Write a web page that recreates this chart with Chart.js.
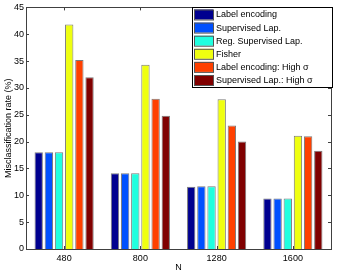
<!DOCTYPE html>
<html>
<head>
<meta charset="utf-8">
<script src="https://cdn.jsdelivr.net/npm/chart.js@4.4.0/dist/chart.umd.min.js"></script>
<style>
  html, body { margin: 0; padding: 0; background: #fff; }
  #wrap { width: 338px; height: 273px; }
</style>
</head>
<body>
<div id="wrap"><canvas id="grafico" width="338" height="273"></canvas></div>
<script>
// --- dados ---
let categorias = ['480', '800', '1280', '1600'];
let labelEncoding = [18.0, 14.1, 11.6, 9.4];
let supervisedLap = [18.0, 14.1, 11.7, 9.4];
let regSupervisedLap = [18.0, 14.1, 11.7, 9.4];
let fisher = [41.8, 34.3, 27.9, 21.1];
let labelEncHigh = [35.2, 28.0, 23.0, 21.0];
let supLapHigh = [32.0, 24.8, 20.0, 18.3];
let nomes = ['Label encoding', 'Supervised Lap.', 'Reg. Supervised Lap.', 'Fisher',
             'Label encoding: High \u03c3', 'Supervised Lap.: High \u03c3'];
let cores = ['#00008f', '#0050ff', '#20ffdf', '#efff10', '#ff4000', '#800000'];
let yTicks = [0, 5, 10, 15, 20, 25, 30, 35, 40, 45];

let fonte = '"Liberation Sans", Arial, sans-serif';
Chart.defaults.font.family = fonte;
Chart.defaults.font.size = 9;
Chart.defaults.color = '#000';

let series = [labelEncoding, supervisedLap, regSupervisedLap, fisher, labelEncHigh, supLapHigh];
let dados = {
  labels: categorias,
  datasets: series.map(function (s, i) {
    return {
      label: nomes[i],
      data: s,
      backgroundColor: cores[i],
      borderColor: '#7a7a7a',
      borderWidth: 1,
      borderSkipped: 'bottom'
    };
  })
};

// caixa do eixo, ticks internos e legenda dentro do grafico
let caixaPlugin = {
  id: 'caixa',
  afterDraw: function (chart) {
    let c = chart.ctx, a = chart.chartArea;
    let x = chart.scales.x, y = chart.scales.y;
    c.save();
    c.strokeStyle = '#404040';
    c.lineWidth = 1;
    c.strokeRect(Math.round(a.left) + 0.5, Math.round(a.top) + 0.5,
                 Math.round(a.right - a.left), Math.round(a.bottom - a.top));
    c.beginPath();
    yTicks.forEach(function (v) {
      let py = Math.round(y.getPixelForValue(v)) + 0.5;
      c.moveTo(a.left, py); c.lineTo(a.left + 3, py);
      c.moveTo(a.right, py); c.lineTo(a.right - 3, py);
    });
    categorias.forEach(function (cat, i) {
      let px = Math.round(x.getPixelForValue(i)) + 0.5;
      c.moveTo(px, a.bottom); c.lineTo(px, a.bottom - 3);
      c.moveTo(px, a.top); c.lineTo(px, a.top + 3);
    });
    c.stroke();

    // legenda
    let lx = 192, ly = 7, lw = 140, lh = 80;
    c.fillStyle = '#fff';
    c.fillRect(lx, ly, lw, lh);
    c.strokeStyle = '#000';
    c.strokeRect(lx + 0.5, ly + 0.5, lw, lh);
    c.font = '9px ' + fonte;
    c.textBaseline = 'middle';
    nomes.forEach(function (n, i) {
      let yy = ly + 7.5 + i * 13.1;
      c.fillStyle = cores[i];
      c.fillRect(lx + 2, yy - 5, 19, 10);
      c.strokeStyle = '#555';
      c.strokeRect(lx + 2.5, yy - 4.5, 19, 10);
      c.fillStyle = '#000';
      c.fillText(n, lx + 24, yy + 0.5);
    });
    c.restore();
  }
};

let grafico = new Chart(document.getElementById('grafico'), {
  type: 'bar',
  data: dados,
  options: {
    responsive: false,
    animation: false,
    layout: { padding: { top: 6, right: 7, left: 0, bottom: 0 } },
    datasets: { bar: { categoryPercentage: 0.8, barPercentage: 0.82 } },
    plugins: { legend: { display: false }, tooltip: { enabled: false } },
    scales: {
      x: {
        grid: { display: false, drawTicks: false },
        border: { display: false },
        ticks: { padding: 4, maxRotation: 0 },
        title: { display: true, text: 'N', padding: { top: 0, bottom: 0 } },
        afterFit: function (s) { s.height = 24; }
      },
      y: {
        min: 0, max: 45,
        grid: { display: false, drawTicks: false },
        border: { display: false },
        ticks: { stepSize: 5, padding: 2 },
        title: { display: true, text: 'Misclassification rate (%)', padding: { top: 3, bottom: 0 } },
        afterFit: function (s) { s.width = 26; }
      }
    }
  },
  plugins: [caixaPlugin]
});
</script>
</body>
</html>
